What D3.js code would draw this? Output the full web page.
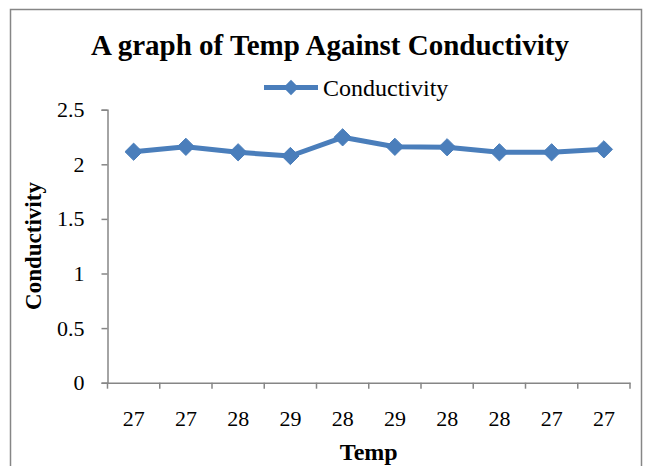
<!DOCTYPE html>
<html>
<head>
<meta charset="utf-8">
<script src="https://cdn.jsdelivr.net/npm/d3@7"></script>
<style>
  body { margin: 0; background: #fff; }
  text { font-family: "Liberation Serif", "Times New Roman", serif; }
</style>
</head>
<body>
<div id="chart"></div>
<script>
// Data
const tempLabels = ["27", "27", "28", "29", "28", "29", "28", "28", "27", "27"];
const conductivity = [2.115, 2.16, 2.11, 2.076, 2.247, 2.16, 2.156, 2.11, 2.11, 2.137];
const yTicks = [0, 0.5, 1, 1.5, 2, 2.5];

const W = 649, H = 466;
const margin = {top: 109.7, right: 19, bottom: 83.3, left: 107.5};
const width = W - margin.left - margin.right;
const height = H - margin.top - margin.bottom;

const svg = d3.select("#chart")
  .append("svg")
  .attr("width", W)
  .attr("height", H);

// Chart border
svg.append("rect")
  .attr("x", 10.5).attr("y", 9.5)
  .attr("width", 631).attr("height", 470)
  .attr("fill", "none")
  .attr("stroke", "#868686")
  .attr("stroke-width", 1.5);

const g = svg.append("g")
  .attr("transform", `translate(${margin.left},${margin.top})`);

const idx = d3.range(tempLabels.length);
const x = d3.scaleBand().domain(idx).range([0, width]);
const y = d3.scaleLinear().domain([0, 2.5]).range([height, 0]);

// Y axis
const yAxis = g.append("g")
  .call(d3.axisLeft(y).tickValues(yTicks).tickSize(6).tickPadding(17)
    .tickFormat(d => d3.format("")(d)));
yAxis.select(".domain").attr("stroke", "#868686").attr("stroke-width", 1.5);
yAxis.selectAll(".tick line").attr("stroke", "#868686").attr("stroke-width", 1.5);
yAxis.selectAll("text").style("font-size", "22px").attr("fill", "#000")
  .style("font-family", "Liberation Serif");

// X axis: ticks at band boundaries
const xAxis = g.append("g")
  .attr("transform", `translate(0,${height})`)
  .call(d3.axisBottom(x).tickSize(0).tickPadding(28).tickFormat(i => tempLabels[i]));
xAxis.select(".domain").attr("stroke", "#868686").attr("stroke-width", 1.5);
xAxis.selectAll("text").style("font-size", "22px").attr("fill", "#000")
  .style("font-family", "Liberation Serif");
g.append("g")
  .selectAll("line")
  .data(d3.range(tempLabels.length + 1))
  .enter()
  .append("line")
  .attr("x1", i => i * x.step())
  .attr("x2", i => i * x.step())
  .attr("y1", height)
  .attr("y2", height + 6)
  .attr("stroke", "#868686")
  .attr("stroke-width", 1.5);

// Line
const line = d3.line()
  .x((d, i) => x(i) + x.bandwidth() / 2)
  .y(d => y(d));

g.append("path")
  .datum(conductivity)
  .attr("fill", "none")
  .attr("stroke", "#4a7ebb")
  .attr("stroke-width", 5)
  .attr("stroke-linejoin", "round")
  .attr("d", line);

// Diamond markers
const diamond = d3.symbol().type(d3.symbolDiamond2).size(190);
g.selectAll(".marker")
  .data(conductivity)
  .enter()
  .append("path")
  .attr("class", "marker")
  .attr("d", diamond)
  .attr("transform", (d, i) => `translate(${x(i) + x.bandwidth() / 2},${y(d)})`)
  .attr("fill", "#4a7ebb")
  .attr("stroke", "#4a7ebb")
  .attr("stroke-width", 1);

// Title
svg.append("text")
  .attr("x", 330)
  .attr("y", 55)
  .attr("text-anchor", "middle")
  .style("font-size", "29px")
  .style("font-weight", "bold")
  .text("A graph of Temp Against Conductivity");

// Legend
const legend = svg.append("g").attr("transform", "translate(264,87.5)");
legend.append("line")
  .attr("x1", 0).attr("x2", 54)
  .attr("y1", 0).attr("y2", 0)
  .attr("stroke", "#4a7ebb")
  .attr("stroke-width", 5);
legend.append("path")
  .attr("d", d3.symbol().type(d3.symbolDiamond2).size(150))
  .attr("transform", "translate(27,0)")
  .attr("fill", "#4a7ebb");
legend.append("text")
  .attr("x", 59)
  .attr("y", 8)
  .style("font-size", "24px")
  .text("Conductivity");

// Axis titles
svg.append("text")
  .attr("x", margin.left + width / 2)
  .attr("y", 460)
  .attr("text-anchor", "middle")
  .style("font-size", "24px")
  .style("font-weight", "bold")
  .text("Temp");

svg.append("text")
  .attr("transform", `translate(41,246) rotate(-90)`)
  .attr("text-anchor", "middle")
  .style("font-size", "23px")
  .style("font-weight", "bold")
  .text("Conductivity");
</script>
</body>
</html>
